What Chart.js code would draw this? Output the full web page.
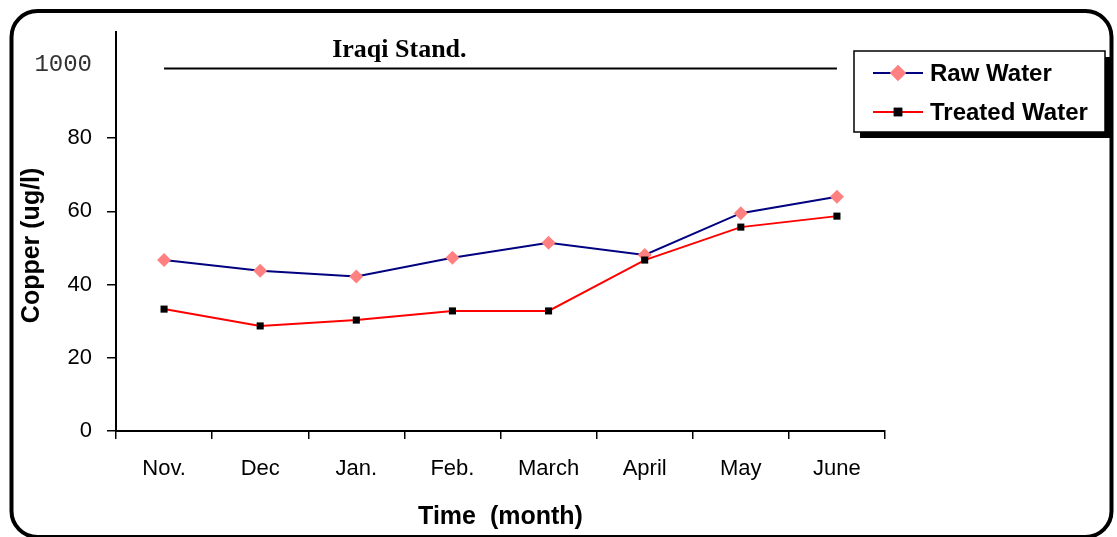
<!DOCTYPE html>
<html>
<head>
<meta charset="utf-8">
<script src="https://cdn.jsdelivr.net/npm/chart.js@4/dist/chart.umd.min.js"></script>
<style>
  html, body { margin: 0; padding: 0; background: #fff; }
  #wrap { width: 1117px; height: 537px; position: relative; }
</style>
</head>
<body>
<div id="wrap"><canvas id="copperChart"></canvas></div>
<script>
// data
const months = ['Nov.', 'Dec', 'Jan.', 'Feb.', 'March', 'April', 'May', 'June'];
const rawWater = [46.7, 43.8, 42.2, 47.3, 51.4, 48.1, 59.5, 64.0];
const treatedWater = [33.3, 28.7, 30.3, 32.8, 32.8, 46.7, 55.7, 58.7];
// Iraqi standard (1000 ug/l) drawn on the broken part of the axis
const iraqiStandard = [99, 99, 99, 99, 99, 99, 99, 99];
const yTicks = [0, 20, 40, 60, 80, 100];
const yTickLabels = ['0', '20', '40', '60', '80', '1000'];

const SANS = '"Liberation Sans", Arial, sans-serif';

// frame, legend box and the "Iraqi Stand." caption
const decorPlugin = {
    id: 'decor',
    afterDraw(chart) {
        const ctx = chart.ctx;
        const x = chart.scales.x, y = chart.scales.y;
        ctx.save();

        // outer rounded frame (bottom edge runs off the picture)
        ctx.lineWidth = 4;
        ctx.strokeStyle = '#000';
        ctx.beginPath();
        ctx.roundRect(11.5, 11, 1100, 526, 26);
        ctx.stroke();

        // caption above the standard line
        ctx.fillStyle = '#000';
        ctx.font = 'bold 26px "Liberation Serif", "Times New Roman", serif';
        ctx.textAlign = 'center';
        ctx.textBaseline = 'alphabetic';
        const cx = (x.getPixelForValue(2) + x.getPixelForValue(3)) / 2 - 5;
        ctx.fillText('Iraqi Stand.', cx, y.getPixelForValue(iraqiStandard[0]) - 12);

        // legend with drop shadow
        const lx = 854, ly = 51, lw = 251, lh = 81;
        ctx.fillStyle = '#000';
        ctx.fillRect(lx + 6, ly + 6, lw, lh);
        ctx.fillStyle = '#fff';
        ctx.fillRect(lx, ly, lw, lh);
        ctx.lineWidth = 1.5;
        ctx.strokeStyle = '#000';
        ctx.strokeRect(lx, ly, lw, lh);

        const items = [chart.data.datasets[0], chart.data.datasets[1]];
        const rows = [73, 112];
        items.forEach((ds, i) => {
            const ry = rows[i];
            ctx.strokeStyle = ds.borderColor;
            ctx.lineWidth = 2;
            ctx.beginPath();
            ctx.moveTo(873, ry);
            ctx.lineTo(923, ry);
            ctx.stroke();
            ctx.fillStyle = ds.pointBackgroundColor;
            Chart.helpers.drawPoint(ctx, {
                pointStyle: ds.pointStyle,
                radius: ds.pointRadius + 1,
                borderWidth: 0,
                rotation: 0
            }, 898, ry);
            ctx.fill();
            ctx.fillStyle = '#000';
            ctx.font = 'bold 24px ' + SANS;
            ctx.textAlign = 'left';
            ctx.textBaseline = 'middle';
            ctx.fillText(ds.label, 930, ry + 1);
        });
        ctx.restore();
    }
};

new Chart(document.getElementById('copperChart').getContext('2d'), {
    type: 'line',
    data: {
        labels: months,
        datasets: [
            {
                label: 'Raw Water',
                data: rawWater,
                borderColor: '#000080',
                borderWidth: 2,
                pointStyle: 'rectRot',
                pointRadius: 7,
                pointBackgroundColor: '#ff8080',
                pointBorderColor: '#ff8080',
                pointBorderWidth: 0,
                tension: 0,
                order: 2
            },
            {
                label: 'Treated Water',
                data: treatedWater,
                borderColor: '#ff0000',
                borderWidth: 2,
                pointStyle: 'rect',
                pointRadius: 5,
                pointBackgroundColor: '#000',
                pointBorderColor: '#000',
                pointBorderWidth: 0,
                tension: 0,
                order: 1
            },
            {
                label: 'Iraqi Stand.',
                data: iraqiStandard,
                borderColor: '#000',
                borderWidth: 2,
                pointRadius: 0,
                tension: 0,
                order: 3
            }
        ]
    },
    options: {
        responsive: true,
        maintainAspectRatio: false,
        animation: false,
        layout: { padding: { top: 32, right: 232, left: 0, bottom: 0 } },
        plugins: {
            legend: { display: false },
            tooltip: { enabled: false }
        },
        scales: {
            x: {
                offset: true,
                grid: {
                    offset: true,
                    drawOnChartArea: false,
                    tickLength: 8,
                    color: '#000',
                    lineWidth: 1.5
                },
                border: { color: '#000', width: 2 },
                ticks: {
                    color: '#000',
                    font: { family: SANS, size: 22 },
                    padding: 17,
                    maxRotation: 0,
                    autoSkip: false
                },
                title: {
                    display: true,
                    text: 'Time  (month)',
                    color: '#000',
                    font: { family: SANS, size: 25, weight: 'bold' },
                    padding: { top: 0, bottom: 5 }
                },
                afterFit: function(scale) { scale.height = 106; }
            },
            y: {
                min: 0,
                max: 109,
                afterBuildTicks: function(scale) {
                    scale.ticks = yTicks.map(v => ({ value: v }));
                },
                grid: {
                    drawOnChartArea: false,
                    tickLength: 9,
                    lineWidth: 1.5,
                    color: ctx => (ctx.tick && ctx.tick.value === 100) ? 'rgba(0,0,0,0)' : '#000'
                },
                border: { color: '#000', width: 2 },
                ticks: {
                    padding: 15,
                    callback: function(value) {
                        return yTickLabels[yTicks.indexOf(value)];
                    },
                    color: ctx => (ctx.tick && ctx.tick.value === 100) ? '#333' : '#000',
                    font: ctx => (ctx.tick && ctx.tick.value === 100)
                        ? { family: '"Liberation Mono", "Courier New", monospace', size: 24 }
                        : { family: SANS, size: 22 }
                },
                title: {
                    display: true,
                    // trailing spaces push the title a little below the axis middle, as in the original
                    text: 'Copper (ug/l)    ',
                    color: '#000',
                    font: { family: SANS, size: 25, weight: 'bold' },
                    padding: { top: 17, bottom: 0 }
                },
                afterFit: function(scale) { scale.width = 116; }
            }
        }
    },
    plugins: [decorPlugin]
});
</script>
</body>
</html>
